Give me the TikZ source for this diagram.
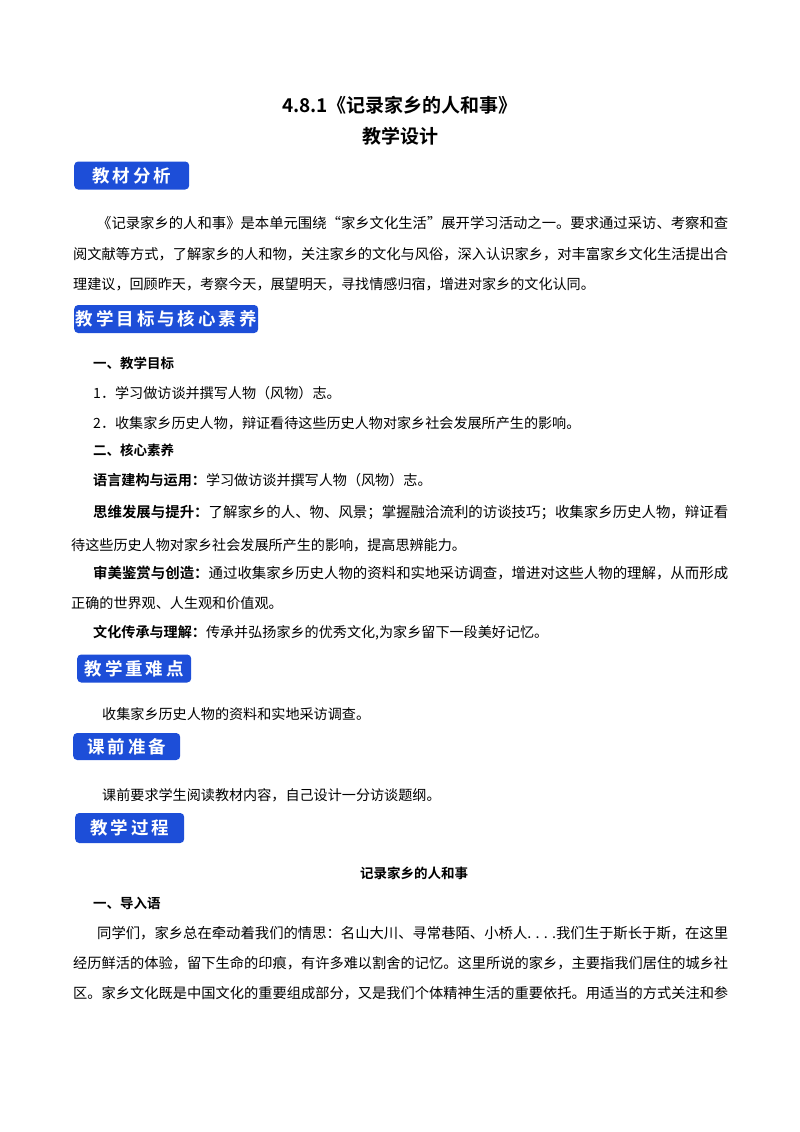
\documentclass[tikz,border=0pt]{standalone}
\usepackage{fontspec}
\setmainfont{Noto Sans CJK SC}
\newfontfamily\cjkb{Noto Sans CJK SC Bold}
\newcommand{\fl}[2]{\resizebox{#1}{!}{#2}}
\begin{document}
\begin{tikzpicture}[x=1pt,y=-1pt,
  txt/.style={anchor=west,inner sep=0pt,font=\fontsize{14.1}{16}\selectfont},
  hd/.style={anchor=west,inner sep=0pt,font=\fontsize{13.5}{15}\cjkb},
  sec/.style={anchor=west,fill=secblue,rounded corners=4pt,text=white,inner sep=0pt,minimum height=28pt,font=\fontsize{17.5}{19}\cjkb}]
\definecolor{secblue}{HTML}{1D4ED8}
\useasboundingbox[fill=white] (0,0) rectangle (800,1132);
\node[font=\fontsize{19}{21}\cjkb] (t1) at (400,105) {4.8.1《记录家乡的人和事》};
\node[font=\fontsize{19}{21}\cjkb] (t2) at (400,136) {教学设计};
\node[sec,minimum width=115pt] (s1) at (74,175.5) {教\,材\,分\,析};
\node[txt] (p1) at (97,223) {\fl{631pt}{《记录家乡的人和事》是本单元围绕“家乡文化生活”展开学习活动之一。要求通过采访、考察和查}};
\node[txt] (p2) at (73,254) {\fl{655pt}{阅文献等方式，了解家乡的人和物，关注家乡的文化与风俗，深入认识家乡，对丰富家乡文化生活提出合}};
\node[txt] (p3) at (73,284) {理建议，回顾昨天，考察今天，展望明天，寻找情感归宿，增进对家乡的文化认同。};
\node[sec,minimum width=184pt] (s2) at (74,319) {教\,学\,目\,标\,与\,核\,心\,素\,养};
\node[hd] (h1) at (93,363) {一、教学目标};
\node[txt] (a1) at (93,393) {1．学习做访谈并撰写人物（风物）志。};
\node[txt] (a2) at (93,423) {2．收集家乡历史人物，辩证看待这些历史人物对家乡社会发展所产生的影响。};
\node[hd] (h2) at (93,450) {二、核心素养};
\node[txt] (b1) at (93,480) {{\cjkb 语言建构与运用：}学习做访谈并撰写人物（风物）志。};
\node[txt] (b2) at (93,512) {\fl{635pt}{{\cjkb 思维发展与提升：}了解家乡的人、物、风景；掌握融洽流利的访谈技巧；收集家乡历史人物，辩证看}};
\node[txt] (b3) at (71,545) {待这些历史人物对家乡社会发展所产生的影响，提高思辨能力。};
\node[txt] (b4) at (93,573) {\fl{635pt}{{\cjkb 审美鉴赏与创造：}通过收集家乡历史人物的资料和实地采访调查，增进对这些人物的理解，从而形成}};
\node[txt] (b5) at (71,603) {正确的世界观、人生观和价值观。};
\node[txt] (b6) at (93,633) {{\cjkb 文化传承与理解：}传承并弘扬家乡的优秀文化,为家乡留下一段美好记忆。};
\node[sec,minimum width=114pt] (s3) at (77,668.5) {教\,学\,重\,难\,点};
\node[txt] (c1) at (102,714) {收集家乡历史人物的资料和实地采访调查。};
\node[sec,minimum width=107pt,minimum height=27pt] (s4) at (73,746.5) {课\,前\,准\,备};
\node[txt] (d1) at (102,795) {课前要求学生阅读教材内容，自己设计一分访谈题纲。};
\node[sec,minimum width=109pt,minimum height=30pt] (s5) at (75,828) {教\,学\,过\,程};
\node[font=\fontsize{13.5}{15}\cjkb] (e0) at (414,873) {记录家乡的人和事};
\node[hd] (e1) at (93,903) {一、导入语};
\node[txt] (e2) at (97,933) {\fl{631pt}{同学们，家乡总在牵动着我们的情思：名山大川、寻常巷陌、小桥人. . . .我们生于斯长于斯，在这里}};
\node[txt] (e3) at (73,963) {\fl{655pt}{经历鲜活的体验，留下生命的印痕，有许多难以割舍的记忆。这里所说的家乡，主要指我们居住的城乡社}};
\node[txt] (e4) at (73,993) {\fl{655pt}{区。家乡文化既是中国文化的重要组成部分，又是我们个体精神生活的重要依托。用适当的方式关注和参}};
\end{tikzpicture}
\end{document}
